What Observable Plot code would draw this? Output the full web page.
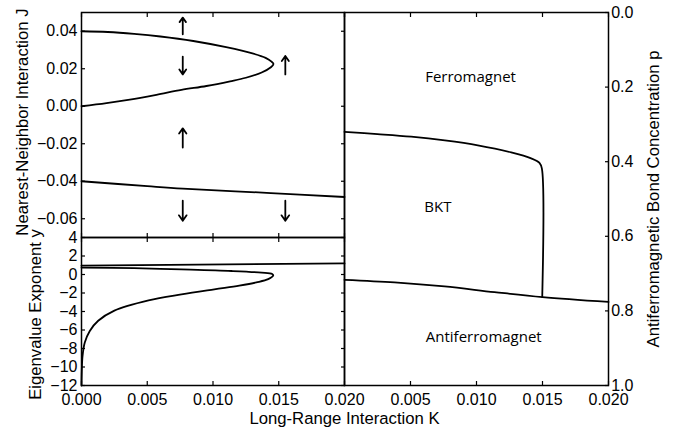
<!DOCTYPE html>
<html><head><meta charset="utf-8">
<script src="https://cdn.jsdelivr.net/npm/d3@7"></script>
<script src="https://cdn.jsdelivr.net/npm/@observablehq/plot@0.6"></script>
<style>
html,body{margin:0;padding:0;background:#fff;overflow:hidden;}
#chart{position:relative;width:682px;height:431px;}
#chart svg{position:absolute;left:0;top:0;}
</style></head><body><div id="chart"></div>
<script>
// ---------- data ----------
// Top-left panel: RG flow in (K, J)
const flowK = [0, 0.002, 0.004, 0.006, 0.0085, 0.011, 0.0130, 0.0140, 0.01445, 0.0146, 0.0144, 0.0137, 0.0125, 0.0113, 0.0095, 0.0076, 0.0057, 0.0038, 0.0019, 0];
const flowJ = [0.0400, 0.0396, 0.0386, 0.0372, 0.0348, 0.0315, 0.0282, 0.0258, 0.0238, 0.0225, 0.0208, 0.0180, 0.0152, 0.0133, 0.0108, 0.0087, 0.0061, 0.0037, 0.0017, 0.0];
const afK = [0, 0.005, 0.0077, 0.0144, 0.02];
const afJ = [-0.0400, -0.0426, -0.0439, -0.0463, -0.0484];
// flow arrows (K, tail J, head J)
const arrowK = [0.0077, 0.0077, 0.0155, 0.0077, 0.0077, 0.0155];
const arrowFrom = [0.0384, 0.0265, 0.0170, -0.0220, -0.0504, -0.0504];
const arrowTo = [0.0473, 0.0170, 0.0268, -0.0118, -0.0611, -0.0611];
const jTicks = [-0.06, -0.04, -0.02, 0, 0.02, 0.04];

// Bottom-left panel: eigenvalue exponent y
const eigLineK = [0, 0.02];
const eigLineY = [0.95, 1.2];
const eigK = [0, 0.004, 0.0076, 0.0114, 0.0137, 0.0145, 0.01458, 0.0142, 0.0133, 0.0120, 0.0101, 0.0076, 0.0051, 0.0025, 0.00127, 0.00063, 0.00025, 0.00008, 0.00002, 0];
const eigY = [0.75, 0.68, 0.55, 0.38, 0.2, 0.05, -0.1, -0.5, -0.85, -1.2, -1.6, -2.15, -2.8, -3.9, -5.0, -6.1, -7.35, -8.8, -10.5, -12];
const yTicks = [-12, -10, -8, -6, -4, -2, 0, 2, 4];

// Right panel: phase diagram (K, p)
const ferroK = [0, 0.0025, 0.00505, 0.0076, 0.0101, 0.01263, 0.01414, 0.01477, 0.01495, 0.01498];
const ferroP = [0.320, 0.326, 0.333, 0.343, 0.356, 0.375, 0.391, 0.403, 0.418, 0.763];
const antiK = [0, 0.00379, 0.00758, 0.01136, 0.015, 0.02];
const antiP = [0.7166, 0.7236, 0.7345, 0.7496, 0.763, 0.776];
const phaseNames = ["Ferromagnet", "BKT", "Antiferromagnet"];
const phaseK = [0.00955, 0.00707, 0.01055];
const phaseP = [0.1746, 0.522, 0.870];
const pTicks = [0, 0.2, 0.4, 0.6, 0.8, 1.0];

const kTicks = [0, 0.005, 0.01, 0.015, 0.02];
const kTicksRight = [0.005, 0.01, 0.015, 0.02];

// ---------- build ----------
const zip2 = (a, b, ka, kb) => a.map((v, i) => ({[ka]: v, [kb]: b[i]}));
const flow = zip2(flowK, flowJ, "K", "J");
const af = zip2(afK, afJ, "K", "J");
const arrows = arrowK.map((k, i) => ({K: k, from: arrowFrom[i], to: arrowTo[i]}));
const eigLine = zip2(eigLineK, eigLineY, "K", "y");
const eig = zip2(eigK, eigY, "K", "y");
const ferro = zip2(ferroK, ferroP, "K", "p");
const anti = zip2(antiK, antiP, "K", "p");
const phases = phaseNames.map((n, i) => ({name: n, K: phaseK[i], p: phaseP[i]}));

const W = 682, H = 431;
const FONT = "'Liberation Sans', Arial, Helvetica, sans-serif";
const LBL = 16.7;
const style = {background: "none", fontFamily: FONT, fontSize: "16px", color: "black", overflow: "visible"};
const blank = () => "";
const TS = -4;
const lbl = {textAnchor: "middle", lineAnchor: "middle", fontSize: LBL, fill: "black"};

const p1 = Plot.plot({
  width: W, height: H, style,
  marginLeft: 81, marginRight: 338, marginTop: 12, marginBottom: 194,
  x: {domain: [0, 0.02]},
  y: {domain: [-0.07, 0.05]},
  marks: [
    Plot.axisY({anchor: "left", ticks: jTicks, tickFormat: d3.format(".2f"), tickSize: TS, tickPadding: 8, label: null, strokeWidth: 1.2}),
    Plot.axisY({anchor: "right", ticks: jTicks, tickFormat: blank, tickSize: TS, label: null, strokeWidth: 1.2}),
    Plot.axisX({anchor: "top", ticks: kTicks, tickFormat: blank, tickSize: TS, label: null, strokeWidth: 1.2}),
    Plot.axisX({anchor: "bottom", ticks: kTicks, tickFormat: blank, tickSize: TS, label: null, strokeWidth: 1.2}),
    Plot.line(flow, {x: "K", y: "J", curve: "catmull-rom", stroke: "black", strokeWidth: 1.8}),
    Plot.line(af, {x: "K", y: "J", curve: "catmull-rom", stroke: "black", strokeWidth: 1.8}),
    Plot.arrow(arrows, {x1: "K", y1: "from", x2: "K", y2: "to", stroke: "black", strokeWidth: 1.8, headLength: 7, headAngle: 70}),
    Plot.frame({stroke: "black", strokeWidth: 1.5}),
    Plot.text(["Nearest-Neighbor Interaction J"], {text: d => d, frameAnchor: "left", dx: -59, dy: -3, rotate: -90, ...lbl})
  ]
});

const p2 = Plot.plot({
  width: W, height: H, style,
  marginLeft: 81, marginRight: 338, marginTop: 237, marginBottom: 46,
  x: {domain: [0, 0.02]},
  y: {domain: [-12, 4]},
  marks: [
    Plot.axisY({anchor: "left", ticks: yTicks, tickFormat: d3.format("d"), tickSize: TS, tickPadding: 8, label: null, strokeWidth: 1.2}),
    Plot.axisY({anchor: "right", ticks: yTicks, tickFormat: blank, tickSize: TS, label: null, strokeWidth: 1.2}),
    Plot.axisX({anchor: "top", ticks: kTicks, tickFormat: blank, tickSize: TS, label: null, strokeWidth: 1.2}),
    Plot.axisX({anchor: "bottom", ticks: kTicks, tickFormat: d3.format(".3f"), tickSize: TS, tickPadding: 12.5, label: null, strokeWidth: 1.2}),
    Plot.line(eigLine, {x: "K", y: "y", stroke: "black", strokeWidth: 1.8}),
    Plot.line(eig, {x: "K", y: "y", curve: "catmull-rom", stroke: "black", strokeWidth: 1.8}),
    Plot.frame({stroke: "black", strokeWidth: 1.5}),
    Plot.text(["Eigenvalue Exponent y"], {text: d => d, frameAnchor: "left", dx: -46, dy: 3, rotate: -90, ...lbl}),
    Plot.text(["Long-Range Interaction K"], {text: d => d, frameAnchor: "bottom-right", dy: 33.5, ...lbl})
  ]
});

const p3 = Plot.plot({
  width: W, height: H, style,
  marginLeft: 344, marginRight: 74, marginTop: 12, marginBottom: 46,
  x: {domain: [0, 0.02]},
  y: {domain: [0, 1], reverse: true},
  marks: [
    Plot.axisY({anchor: "right", ticks: pTicks, tickFormat: d3.format(".1f"), tickSize: TS, tickPadding: 6.7, label: null, strokeWidth: 1.2}),
    Plot.axisX({anchor: "top", ticks: kTicks, tickFormat: blank, tickSize: TS, label: null, strokeWidth: 1.2}),
    Plot.axisX({anchor: "bottom", ticks: kTicksRight, tickFormat: d3.format(".3f"), tickSize: TS, tickPadding: 12.5, label: null, strokeWidth: 1.2}),
    Plot.line(ferro, {x: "K", y: "p", curve: "catmull-rom", stroke: "black", strokeWidth: 1.8}),
    Plot.line(anti, {x: "K", y: "p", curve: "catmull-rom", stroke: "black", strokeWidth: 1.8}),
    Plot.text(phases, {x: "K", y: "p", text: "name", fontFamily: "'Open Sans', 'Noto Sans', sans-serif", fontSize: 15, fill: "black"}),
    Plot.frame({stroke: "black", strokeWidth: 1.5}),
    Plot.text(["Antiferromagnetic Bond Concentration p"], {text: d => d, frameAnchor: "right", dx: 45, rotate: -90, ...lbl})
  ]
});

const chart = document.getElementById("chart");
chart.append(p1, p2, p3);
</script>
</body></html>
